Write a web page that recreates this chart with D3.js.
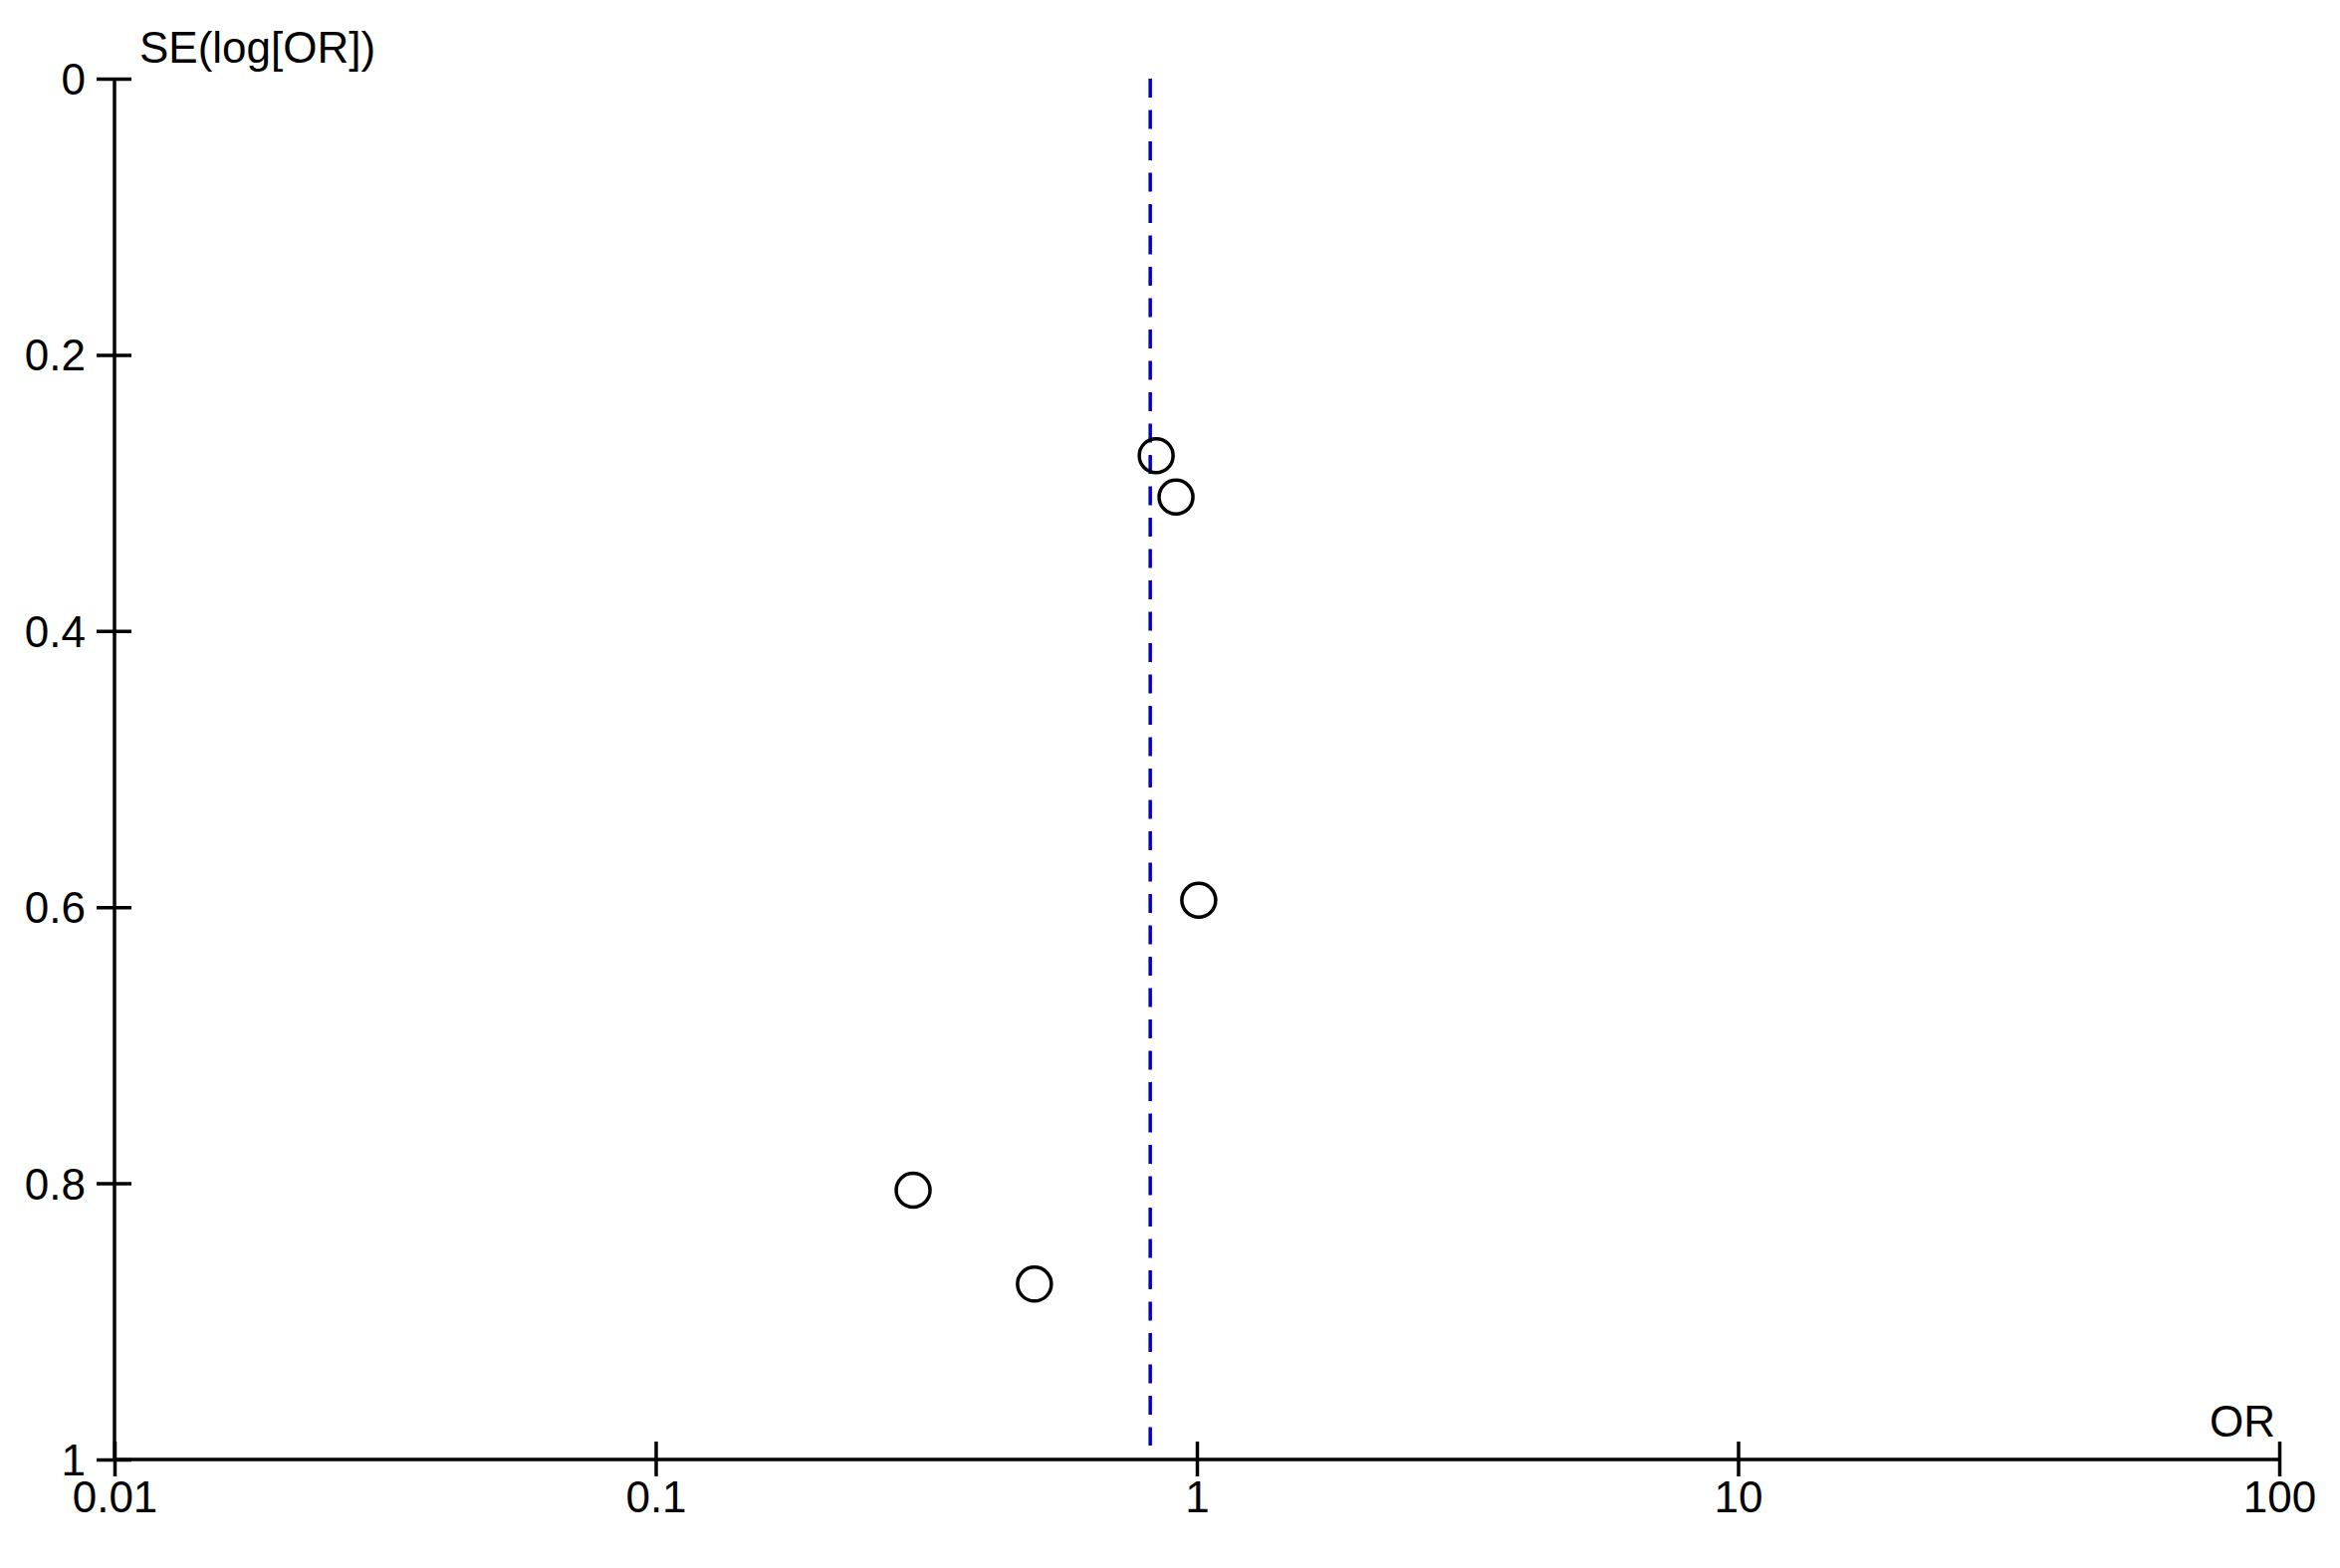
<!DOCTYPE html>
<html>
<head>
<meta charset="utf-8">
<script src="https://cdn.jsdelivr.net/npm/d3@7"></script>
<style>
  html, body { margin: 0; padding: 0; background: #fff; }
  svg text { font-family: "Liberation Sans", Arial, sans-serif; fill: #000; }
</style>
</head>
<body>
<div id="chart"></div>
<script>
// study estimates
const oddsRatios = [0.841, 0.915, 1.008, 0.299, 0.501]
const standardErrors = [0.273, 0.303, 0.595, 0.805, 0.873]
const pooledOR = 0.82
const xTicks = [0.01, 0.1, 1, 10, 100]
const yTicks = [0, 0.2, 0.4, 0.6, 0.8, 1]

const width = 2350
const height = 1575
const plot = { left: 115, right: 2289, top: 79, bottom: 1466 }

const svg = d3.select('#chart')
  .append('svg')
  .attr('width', width)
  .attr('height', height)

const x = d3.scaleLog().domain([0.01, 100]).range([plot.left, plot.right])
const y = d3.scaleLinear().domain([0, 1]).range([plot.top, plot.bottom])

const fmt = d => String(d)

// y axis
const yAxis = svg.append('g')
  .attr('transform', 'translate(' + plot.left + ',0)')
  .call(d3.axisLeft(y).tickValues(yTicks).tickFormat(fmt).tickSize(17).tickPadding(14))
yAxis.select('.domain').remove()
yAxis.selectAll('.tick line').attr('x1', -18).attr('x2', 17).attr('stroke', '#000').attr('stroke-width', 3.5)
yAxis.selectAll('.tick text')
  .attr('x', -29)
  .attr('dy', '0.35em')
  .style('font-size', '44px')
yAxis.append('line')
  .attr('x1', 0).attr('x2', 0)
  .attr('y1', y(0)).attr('y2', y(1))
  .attr('stroke', '#000').attr('stroke-width', 3.5)

// x axis
const xAxis = svg.append('g')
  .attr('transform', 'translate(0,' + plot.bottom + ')')
  .call(d3.axisBottom(x).tickValues(xTicks).tickFormat(fmt).tickSize(17).tickPadding(8))
xAxis.select('.domain').remove()
xAxis.selectAll('.tick line').attr('y1', -18).attr('y2', 17).attr('stroke', '#000').attr('stroke-width', 3.5)
xAxis.selectAll('.tick text')
  .attr('y', 22)
  .attr('dy', '0.71em')
  .style('font-size', '44px')
xAxis.append('line')
  .attr('x1', x(0.01)).attr('x2', x(100))
  .attr('y1', 0).attr('y2', 0)
  .attr('stroke', '#000').attr('stroke-width', 3.5)

// axis titles
svg.append('text')
  .attr('x', plot.left + 25)
  .attr('y', plot.top - 16)
  .style('font-size', '44px')
  .text('SE(log[OR])')
svg.append('text')
  .attr('x', plot.right - 4)
  .attr('y', plot.bottom - 23)
  .attr('text-anchor', 'end')
  .style('font-size', '44px')
  .text('OR')

// pooled estimate
svg.append('line')
  .attr('x1', x(pooledOR)).attr('x2', x(pooledOR))
  .attr('y1', y(0)).attr('y2', plot.bottom - 14)
  .attr('stroke', '#0000cc')
  .attr('stroke-width', 3.5)
  .attr('stroke-dasharray', '19 12.5')

// studies
svg.append('g')
  .selectAll('circle')
  .data(oddsRatios.map((d, i) => ({ or: d, se: standardErrors[i] })))
  .join('circle')
  .attr('cx', d => x(d.or))
  .attr('cy', d => y(d.se))
  .attr('r', 17)
  .attr('fill', 'none')
  .attr('stroke', '#000')
  .attr('stroke-width', 3.5)
</script>
</body>
</html>
